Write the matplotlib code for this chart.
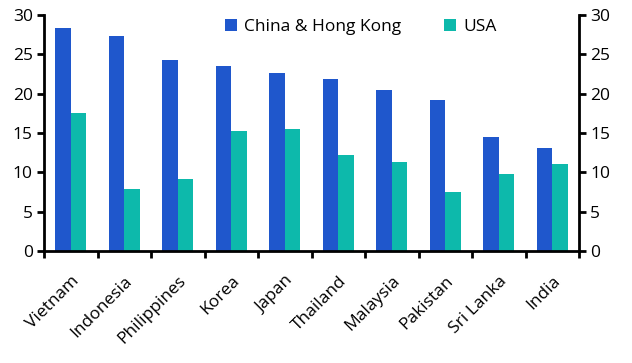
import matplotlib.pyplot as plt
import numpy as np

countries = ['Vietnam', 'Indonesia', 'Philippines', 'Korea', 'Japan',
             'Thailand', 'Malaysia', 'Pakistan', 'Sri Lanka', 'India']
china_hk = [28.3, 27.3, 24.3, 23.5, 22.6, 21.85, 20.45, 19.2, 14.5, 13.1]
usa = [17.5, 7.9, 9.1, 15.25, 15.5, 12.2, 11.3, 7.5, 9.8, 11.05]
yticks = [0, 5, 10, 15, 20, 25, 30]

plt.rcParams['font.family'] = ['Open Sans', 'DejaVu Sans']
plt.rcParams['font.size'] = 12.5

fig = plt.figure(figsize=(6.32, 3.63), dpi=100)
ax = fig.add_axes([44/632, 1-251/363, (579-44)/632, (251-15)/363])

x = np.arange(len(countries))
w = 0.29
ax.bar(x - w/2, china_hk, w, color='#1F57CC', label='China & Hong Kong')
ax.bar(x + w/2, usa, w, color='#0DB9AB', label='USA')

ax.set_xlim(-0.5, len(countries) - 0.5)
ax.set_ylim(0, 30)
ax.set_yticks(yticks)
ax.tick_params(axis='y', which='both', length=5, width=2, direction='out',
               labelright=True, right=True, pad=3)

# category ticks sit between groups, labels at centres
ax.set_xticks(np.arange(-0.5, len(countries)), minor=False)
ax.set_xticklabels([''] * (len(countries) + 1))
ax.set_xticks(x, minor=True)
ax.set_xticklabels(countries, minor=True, rotation=45, ha='right',
                   rotation_mode='anchor')
ax.tick_params(axis='x', which='major', length=5, width=2, direction='out')
ax.tick_params(axis='x', which='minor', length=0, pad=16)

for s in ['left', 'right', 'bottom']:
    ax.spines[s].set_linewidth(2)
ax.spines['top'].set_visible(False)

ax.legend(loc='upper center', ncol=2, frameon=False, handlelength=0.7,
          handleheight=0.7, columnspacing=2.5, handletextpad=0.4,
          bbox_to_anchor=(0.592, 1.05))

fig.savefig('out.png', dpi=100)
